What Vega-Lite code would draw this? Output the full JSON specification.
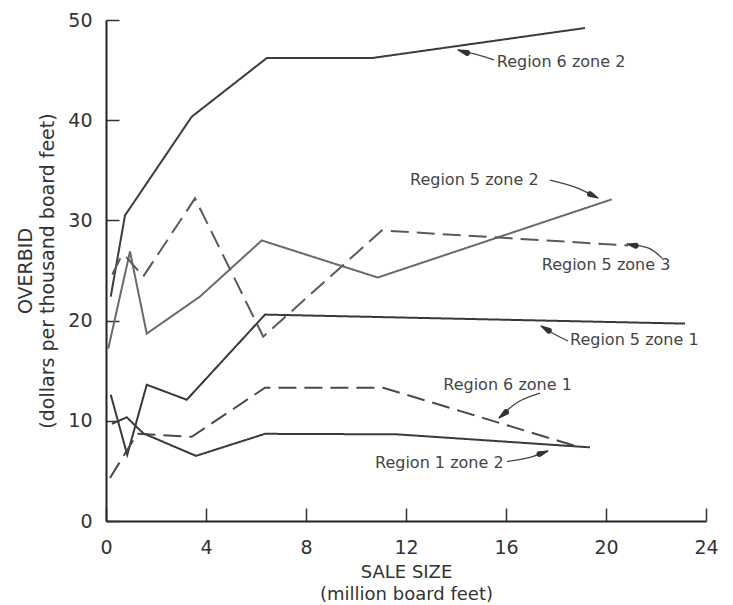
{
  "$schema": "https://vega.github.io/schema/vega-lite/v6.json",
  "width": 600,
  "height": 501,
  "autosize": {"type": "none"},
  "padding": {"left": 106, "top": 20, "right": 27, "bottom": 84},
  "background": "white",
  "config": {"view": {"stroke": null}, "font": "DejaVu Sans"},
  "datasets": {
    "series": [
      {"series": "Region 6 zone 2", "style": "solid", "x": 0.19, "y": 22.4},
      {"series": "Region 6 zone 2", "style": "solid", "x": 0.76, "y": 30.5},
      {"series": "Region 6 zone 2", "style": "solid", "x": 3.43, "y": 40.35},
      {"series": "Region 6 zone 2", "style": "solid", "x": 6.43, "y": 46.2},
      {"series": "Region 6 zone 2", "style": "solid", "x": 10.63, "y": 46.2},
      {"series": "Region 6 zone 2", "style": "solid", "x": 19.16, "y": 49.2},
      {"series": "Region 5 zone 2", "style": "solid", "x": 0.09, "y": 17.2},
      {"series": "Region 5 zone 2", "style": "solid", "x": 0.96, "y": 26.9},
      {"series": "Region 5 zone 2", "style": "solid", "x": 1.63, "y": 18.7},
      {"series": "Region 5 zone 2", "style": "solid", "x": 3.76, "y": 22.4},
      {"series": "Region 5 zone 2", "style": "solid", "x": 6.23, "y": 28.0},
      {"series": "Region 5 zone 2", "style": "solid", "x": 10.87, "y": 24.3},
      {"series": "Region 5 zone 2", "style": "solid", "x": 20.23, "y": 32.1},
      {"series": "Region 5 zone 3", "style": "dashed", "x": 0.25, "y": 24.6},
      {"series": "Region 5 zone 3", "style": "dashed", "x": 0.63, "y": 26.5},
      {"series": "Region 5 zone 3", "style": "dashed", "x": 0.83, "y": 26.3},
      {"series": "Region 5 zone 3", "style": "dashed", "x": 1.49, "y": 24.4},
      {"series": "Region 5 zone 3", "style": "dashed", "x": 3.56, "y": 32.2},
      {"series": "Region 5 zone 3", "style": "dashed", "x": 6.29, "y": 18.4},
      {"series": "Region 5 zone 3", "style": "dashed", "x": 11.03, "y": 29.0},
      {"series": "Region 5 zone 3", "style": "dashed", "x": 20.89, "y": 27.5},
      {"series": "Region 5 zone 1", "style": "solid", "x": 0.19, "y": 12.6},
      {"series": "Region 5 zone 1", "style": "solid", "x": 0.85, "y": 6.6},
      {"series": "Region 5 zone 1", "style": "solid", "x": 1.63, "y": 13.6},
      {"series": "Region 5 zone 1", "style": "solid", "x": 3.23, "y": 12.1},
      {"series": "Region 5 zone 1", "style": "solid", "x": 6.36, "y": 20.6},
      {"series": "Region 5 zone 1", "style": "solid", "x": 23.16, "y": 19.7},
      {"series": "Region 6 zone 1", "style": "dashed", "x": 0.16, "y": 4.3},
      {"series": "Region 6 zone 1", "style": "dashed", "x": 1.25, "y": 8.7},
      {"series": "Region 6 zone 1", "style": "dashed", "x": 3.43, "y": 8.4},
      {"series": "Region 6 zone 1", "style": "dashed", "x": 6.36, "y": 13.3},
      {"series": "Region 6 zone 1", "style": "dashed", "x": 11.09, "y": 13.3},
      {"series": "Region 6 zone 1", "style": "dashed", "x": 19.03, "y": 7.3},
      {"series": "Region 1 zone 2", "style": "solid", "x": 0.24, "y": 9.7},
      {"series": "Region 1 zone 2", "style": "solid", "x": 0.83, "y": 10.35},
      {"series": "Region 1 zone 2", "style": "solid", "x": 1.49, "y": 8.75},
      {"series": "Region 1 zone 2", "style": "solid", "x": 3.6, "y": 6.5},
      {"series": "Region 1 zone 2", "style": "solid", "x": 6.36, "y": 8.7},
      {"series": "Region 1 zone 2", "style": "solid", "x": 11.63, "y": 8.65},
      {"series": "Region 1 zone 2", "style": "solid", "x": 19.36, "y": 7.35}
    ],
    "labels": [
      {"label": "Region 6  zone 2", "x": 15.63, "y": 45.84},
      {"label": "Region 5  zone 2", "x": 12.16, "y": 34.03},
      {"label": "Region 5  zone 3", "x": 17.43, "y": 25.55},
      {"label": "Region 5  zone 1", "x": 18.56, "y": 18.06},
      {"label": "Region 6  zone 1", "x": 13.49, "y": 13.57},
      {"label": "Region 1  zone 2", "x": 10.76, "y": 5.82}
    ],
    "arrows": [
      {"arrow": "A62", "seq": 1, "x": 15.52, "y": 46.01},
      {"arrow": "A62", "seq": 2, "x": 14.88, "y": 46.51},
      {"arrow": "A62", "seq": 3, "x": 14.08, "y": 47.01},
      {"arrow": "A52", "seq": 1, "x": 17.76, "y": 34.03},
      {"arrow": "A52", "seq": 2, "x": 18.76, "y": 33.33},
      {"arrow": "A52", "seq": 3, "x": 19.68, "y": 32.24},
      {"arrow": "A53", "seq": 1, "x": 22.24, "y": 26.25},
      {"arrow": "A53", "seq": 2, "x": 21.68, "y": 27.25},
      {"arrow": "A53", "seq": 3, "x": 20.84, "y": 27.64},
      {"arrow": "A51", "seq": 1, "x": 18.48, "y": 17.96},
      {"arrow": "A51", "seq": 2, "x": 18.0, "y": 18.56},
      {"arrow": "A51", "seq": 3, "x": 17.4, "y": 19.46},
      {"arrow": "A61", "seq": 1, "x": 17.36, "y": 12.77},
      {"arrow": "A61", "seq": 2, "x": 16.48, "y": 11.88},
      {"arrow": "A61", "seq": 3, "x": 15.72, "y": 10.28},
      {"arrow": "A12", "seq": 1, "x": 16.04, "y": 5.94},
      {"arrow": "A12", "seq": 2, "x": 16.88, "y": 6.29},
      {"arrow": "A12", "seq": 3, "x": 17.68, "y": 6.99}
    ],
    "heads": [
      {"arrow": "A62", "role": "base", "x": 14.44, "y": 46.71},
      {"arrow": "A62", "role": "tip", "x": 14.08, "y": 47.01},
      {"arrow": "A52", "role": "base", "x": 19.36, "y": 32.62},
      {"arrow": "A52", "role": "tip", "x": 19.68, "y": 32.24},
      {"arrow": "A53", "role": "base", "x": 21.19, "y": 27.47},
      {"arrow": "A53", "role": "tip", "x": 20.84, "y": 27.64},
      {"arrow": "A51", "role": "base", "x": 17.71, "y": 19.0},
      {"arrow": "A51", "role": "tip", "x": 17.4, "y": 19.46},
      {"arrow": "A61", "role": "base", "x": 16.0, "y": 10.86},
      {"arrow": "A61", "role": "tip", "x": 15.72, "y": 10.28},
      {"arrow": "A12", "role": "base", "x": 17.34, "y": 6.69},
      {"arrow": "A12", "role": "tip", "x": 17.68, "y": 6.99}
    ]
  },
  "encoding": {
    "x": {
      "field": "x", "type": "quantitative",
      "scale": {"domain": [0, 24], "nice": false, "zero": false},
      "axis": {
        "values": [0, 4, 8, 12, 16, 20, 24],
        "grid": false,
        "tickSize": -13, "tickWidth": 1.5, "tickColor": "#333",
        "domainColor": "#222", "domainWidth": 2,
        "labelFontSize": 19, "labelColor": "#333", "labelPadding": 30, "labelFlush": false,
        "title": ["SALE SIZE", "(million board feet)"],
        "titleFontSize": 18, "titleFontWeight": "normal", "titleColor": "#333",
        "titleLineHeight": 22, "titlePadding": 6
      }
    },
    "y": {
      "field": "y", "type": "quantitative",
      "scale": {"domain": [0, 50], "nice": false, "zero": false},
      "axis": {
        "values": [0, 10, 20, 30, 40, 50],
        "grid": false,
        "tickSize": -13, "tickWidth": 1.5, "tickColor": "#333",
        "domainColor": "#222", "domainWidth": 2,
        "labelFontSize": 19, "labelColor": "#333", "labelPadding": 27, "labelFlush": false,
        "title": ["OVERBID", "(dollars per thousand board feet)"],
        "titleFontSize": 19, "titleFontWeight": "normal", "titleColor": "#333",
        "titleLineHeight": 22, "titlePadding": 10
      }
    }
  },
  "layer": [
    {
      "data": {"name": "series"},
      "mark": {"type": "line", "strokeWidth": 2},
      "encoding": {
        "detail": {"field": "series"},
        "color": {
          "field": "series", "type": "nominal", "legend": null,
          "scale": {
            "domain": ["Region 6 zone 2", "Region 5 zone 2", "Region 5 zone 3", "Region 5 zone 1", "Region 6 zone 1", "Region 1 zone 2"],
            "range": ["#3c3c3c", "#6a6a6a", "#5a5a5a", "#383838", "#4a4a4a", "#3a3a3a"]
          }
        },
        "strokeDash": {
          "field": "style", "type": "nominal", "legend": null,
          "scale": {"domain": ["solid", "dashed"], "range": [[1, 0], [18, 8]]}
        },
        "order": {"field": "x", "type": "quantitative"}
      }
    },
    {
      "data": {"name": "arrows"},
      "mark": {"type": "line", "strokeWidth": 1.3, "color": "#444", "interpolate": "natural"},
      "encoding": {
        "detail": {"field": "arrow"},
        "order": {"field": "seq", "type": "quantitative"}
      }
    },
    {
      "data": {"name": "heads"},
      "mark": {"type": "trail", "color": "#333"},
      "encoding": {
        "detail": {"field": "arrow"},
        "order": {"field": "role", "type": "nominal"},
        "size": {
          "field": "role", "type": "nominal", "legend": null,
          "scale": {"type": "ordinal", "domain": ["base", "tip"], "range": [6, 0]}
        }
      }
    },
    {
      "data": {"name": "labels"},
      "mark": {"type": "text", "align": "left", "baseline": "middle", "fontSize": 16, "color": "#444"},
      "encoding": {"text": {"field": "label"}}
    }
  ]
}
